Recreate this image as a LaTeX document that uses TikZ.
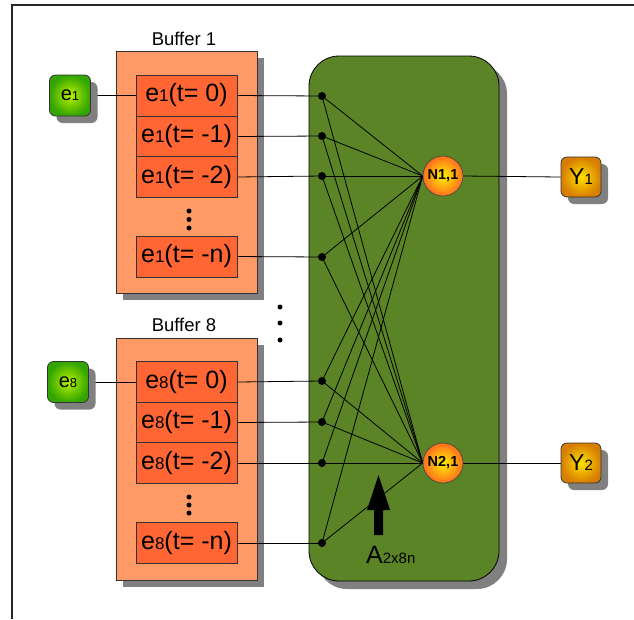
\documentclass[tikz,border=0pt]{standalone}
\usepackage{fontspec}
\setmainfont{Liberation Sans}
\usetikzlibrary{shadows}

\definecolor{bufferfill}{RGB}{255,153,102}
\definecolor{cellfill}{RGB}{255,102,51}
\definecolor{netfill}{RGB}{91,132,39}
\definecolor{shadowgray}{RGB}{128,128,128}
\definecolor{edgegray}{RGB}{50,50,50}
\definecolor{greeninner}{RGB}{185,240,0}
\definecolor{greenouter}{RGB}{50,165,0}
\definecolor{yinner}{RGB}{255,225,0}
\definecolor{youter}{RGB}{215,125,0}
\definecolor{ninner}{RGB}{255,240,0}
\definecolor{nouter}{RGB}{255,110,30}

\newcommand\celltext[2]{e{\fontsize{17}{17}\selectfont #1}(t= #2)}

\pgfdeclarelayer{bottom}
\pgfdeclarelayer{wires}
\pgfsetlayers{bottom,wires,main}

\tikzset{
  shade box/.style={drop shadow={shadow xshift=7pt, shadow yshift=-7pt, fill=shadowgray, opacity=1}},
  buffer/.style={draw=edgegray, line width=0.8pt, fill=bufferfill,
    minimum width=141pt, minimum height=242pt, inner sep=0pt, shade box},
  buftitle/.style={font=\fontsize{18.5}{18.5}\selectfont, inner sep=0pt},
  cell/.style={draw=edgegray, line width=0.8pt, fill=cellfill,
    minimum width=101pt, minimum height=41pt, inner sep=0pt,
    font=\fontsize{25}{25}\selectfont},
  inbox/.style={draw=black!80, line width=0.8pt, rounded corners=6pt,
    minimum width=41pt, minimum height=41pt, inner sep=0pt,
    inner color=greeninner, outer color=greenouter, shade box,
    font=\fontsize{20}{20}\selectfont},
  outbox/.style={draw=black!80, line width=0.8pt, rounded corners=6pt,
    minimum width=40pt, minimum height=40pt, inner sep=0pt,
    inner color=yinner, outer color=youter, shade box,
    font=\fontsize{23}{23}\selectfont},
  net/.style={draw=black, line width=0.8pt, fill=netfill, rounded corners=30pt,
    minimum width=190pt, minimum height=525pt, inner sep=0pt,
    drop shadow={shadow xshift=8pt, shadow yshift=-8pt, fill=shadowgray, opacity=1}},
  neuron/.style={circle, draw=black!75, line width=0.6pt,
    minimum size=40pt, inner sep=0pt,
    inner color=ninner, outer color=nouter,
    font=\bfseries\fontsize{14.5}{14.5}\selectfont},
  junction/.style={circle, fill=black, minimum size=8pt, inner sep=0pt},
  smalldot/.style={circle, fill=black, minimum size=5pt, inner sep=0pt},
  wire/.style={line width=0.8pt, black},
  frame/.style={line width=1.2pt, black!85},
}

\begin{document}
\begin{tikzpicture}[x=1pt,y=-1pt]
\useasboundingbox (0,0) rectangle (634,619);

% outer border
\draw[frame] (634,5) -- (12,5) -- (12,619);

% network block and buffers, underneath the wiring
\begin{pgfonlayer}{bottom}
\node[net] (net) at (404,318.5) {};
\node[buffer] (buf1) at (186.5,172) {};
\node[buffer] (buf8) at (186.5,459) {};
\end{pgfonlayer}

\node[buftitle] (buf1t) at (184,39) {Buffer 1};
\node[buftitle] (buf8t) at (184,325) {Buffer 8};

% delay cells of buffer 1
\node[cell] (c10) at (186.5,95.5)  {\celltext{1}{0}};
\node[cell] (c11) at (186.5,136.5) {\celltext{1}{-1}};
\node[cell] (c12) at (186.5,177)   {\celltext{1}{-2}};
\node[cell] (c1n) at (186.5,256.5) {\celltext{1}{-n}};
\node[smalldot] (d1a) at (189,211) {};
\node[smalldot] (d1b) at (189,219.5) {};
\node[smalldot] (d1c) at (189,228) {};

% delay cells of buffer 8
\node[cell] (c80) at (186.5,382)   {\celltext{8}{0}};
\node[cell] (c81) at (186.5,422.5) {\celltext{8}{-1}};
\node[cell] (c82) at (186.5,463)   {\celltext{8}{-2}};
\node[cell] (c8n) at (186.5,543)   {\celltext{8}{-n}};
\node[smalldot] (d8a) at (189,497) {};
\node[smalldot] (d8b) at (189,505) {};
\node[smalldot] (d8c) at (189,513) {};

% ellipsis between the buffers
\node[smalldot] (dma) at (280,307) {};
\node[smalldot] (dmb) at (280,323) {};
\node[smalldot] (dmc) at (280,340) {};

% inputs
\node[inbox] (e1) at (70,95.5) {e{\fontsize{13}{13}\selectfont 1}};
\node[inbox] (e8) at (68,382) {e{\fontsize{13}{13}\selectfont 8}};

% neurons and outputs
\node[neuron] (n1) at (443,176) {N1,1};
\node[neuron] (n2) at (443,463) {N2,1};
\node[outbox] (y1) at (581,177) {Y{\fontsize{15}{15}\selectfont 1}};
\node[outbox] (y2) at (581,463) {Y{\fontsize{15}{15}\selectfont 2}};

% junction points
\node[junction] (j10) at (322,96)  {};
\node[junction] (j11) at (322,136) {};
\node[junction] (j12) at (322,176) {};
\node[junction] (j1n) at (322,257) {};
\node[junction] (j80) at (322,381) {};
\node[junction] (j81) at (322,422) {};
\node[junction] (j82) at (322,463) {};
\node[junction] (j8n) at (322,543) {};

% wiring, kept underneath the nodes
\begin{pgfonlayer}{wires}
\draw[wire] (e1.east) -- (c10.west);
\draw[wire] (e8.east) -- (c80.west);
\foreach \c/\j in {c10/j10, c11/j11, c12/j12, c1n/j1n, c80/j80, c81/j81, c82/j82, c8n/j8n}{
  \draw[wire] (\c.east) -- (\j.center);
  \draw[wire] (\j.center) -- (n1.west);
  \draw[wire] (\j.center) -- (n2.west);
}
\draw[wire] (n1.east) -- (y1.west);
\draw[wire] (n2.east) -- (y2.west);
\end{pgfonlayer}

% weight matrix arrow and label
\fill[black] (374,535) -- (374,510) -- (367,510) -- (378.5,475) -- (390,510)
  -- (383,510) -- (383,535) -- cycle;
\node[anchor=base west, inner sep=0pt, font=\fontsize{25}{25}\selectfont] (alab) at (366,563)
  {A{\fontsize{15}{15}\selectfont 2x8n}};
\end{tikzpicture}
\end{document}
